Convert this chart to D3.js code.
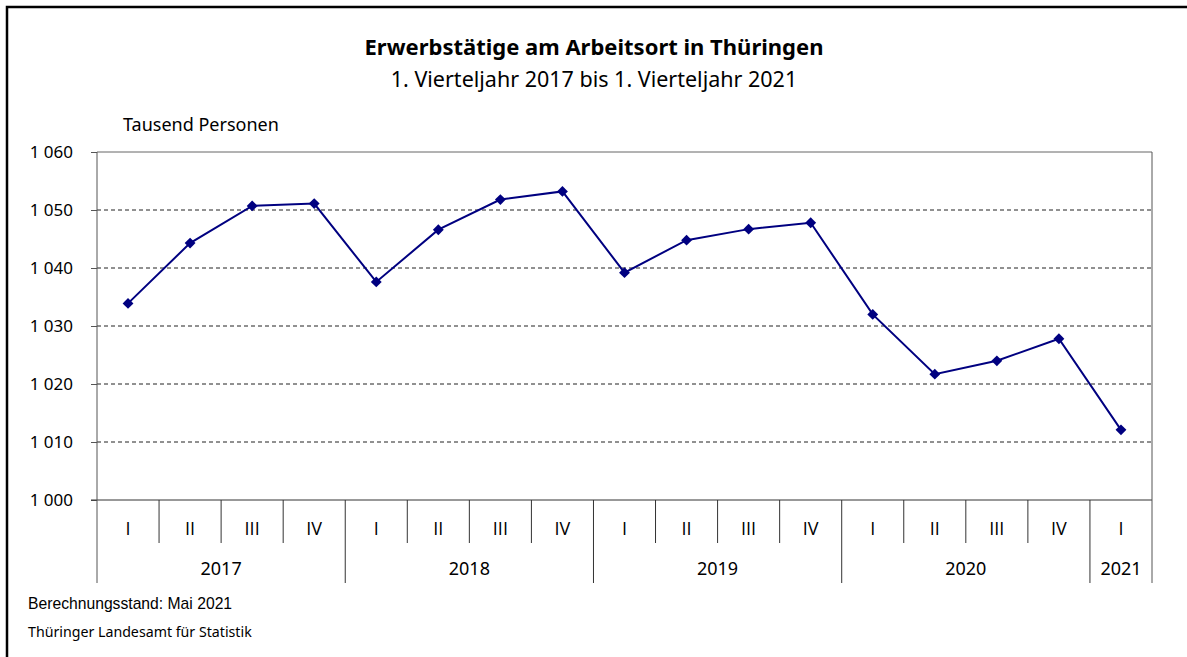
<!DOCTYPE html>
<html>
<head>
<meta charset="utf-8">
<script src="https://cdn.jsdelivr.net/npm/d3@7"></script>
<style>
  body { margin: 0; background: #fff; }
  svg { display: block; }
</style>
</head>
<body>
<div id="chart"></div>
<script>
// Erwerbstätige am Arbeitsort in Thüringen, Tausend Personen
const quarterLabels = ["I", "II", "III", "IV", "I", "II", "III", "IV", "I", "II", "III", "IV", "I", "II", "III", "IV", "I"];
const yearLabels = ["2017", "2018", "2019", "2020", "2021"];
const quartersPerYear = [4, 4, 4, 4, 1];
const values = [1033.9, 1044.3, 1050.7, 1051.1, 1037.6, 1046.6, 1051.8, 1053.2, 1039.2, 1044.8, 1046.7, 1047.8, 1032.0, 1021.7, 1024.0, 1027.8, 1012.1];
const yTicks = [1000, 1010, 1020, 1030, 1040, 1050, 1060];

const width = 1187;
const height = 657;
const margin = { top: 152, right: 35, bottom: 157, left: 97 };
const font = "'Noto Sans', 'Open Sans', sans-serif";
const plainFont = "'Open Sans', 'Noto Sans', sans-serif";

const svg = d3.select("#chart")
  .append("svg")
  .attr("width", width)
  .attr("height", height);

// outer frame (runs off the right and bottom edge like in the original)
svg.append("rect")
  .attr("x", 7)
  .attr("y", 7)
  .attr("width", width + 10)
  .attr("height", height + 10)
  .attr("fill", "none")
  .attr("stroke", "#000")
  .attr("stroke-width", 2.5);

const x = d3.scaleBand()
  .domain(d3.range(values.length))
  .range([margin.left, width - margin.right])
  .padding(0);

const y = d3.scaleLinear()
  .domain([1000, 1060])
  .range([height - margin.bottom, margin.top]);

const fmt = d3.formatLocale({ decimal: ",", thousands: " ", grouping: [3], currency: ["", " €"] }).format(",d");

// titles
svg.append("text")
  .attr("x", 594)
  .attr("y", 55)
  .attr("text-anchor", "middle")
  .attr("font-family", font)
  .attr("font-weight", "bold")
  .attr("font-size", 22)
  .text("Erwerbstätige am Arbeitsort in Thüringen");

svg.append("text")
  .attr("x", 594)
  .attr("y", 87)
  .attr("text-anchor", "middle")
  .attr("font-family", font)
  .attr("font-size", 21.5)
  .text("1. Vierteljahr 2017 bis 1. Vierteljahr 2021");

svg.append("text")
  .attr("x", 123)
  .attr("y", 131)
  .attr("font-family", font)
  .attr("font-size", 18)
  .text("Tausend Personen");

// dashed grid lines
svg.append("g")
  .selectAll("line")
  .data(yTicks.filter(d => d > 1000 && d < 1060))
  .join("line")
  .attr("x1", margin.left)
  .attr("x2", width - margin.right)
  .attr("y1", d => y(d))
  .attr("y2", d => y(d))
  .attr("stroke", "#222")
  .attr("stroke-width", 1)
  .attr("stroke-dasharray", "4,3");

// y axis
const yAxis = svg.append("g")
  .attr("transform", `translate(${margin.left},0)`)
  .call(d3.axisLeft(y).tickValues(yTicks).tickFormat(fmt).tickSize(6).tickPadding(18));
yAxis.select(".domain").remove();
yAxis.selectAll(".tick line").attr("stroke", "#555");
yAxis.selectAll(".tick text")
  .attr("font-family", font)
  .attr("font-size", 17)
  .attr("fill", "#000");

// plot frame
const plotBottom = y(1000);
const axisBottom = 583;
svg.append("line")
  .attr("x1", margin.left).attr("x2", width - margin.right)
  .attr("y1", y(1060)).attr("y2", y(1060))
  .attr("stroke", "#666");
svg.append("line")
  .attr("x1", margin.left - 6).attr("x2", width - margin.right)
  .attr("y1", plotBottom).attr("y2", plotBottom)
  .attr("stroke", "#333");
svg.append("line")
  .attr("x1", margin.left).attr("x2", margin.left)
  .attr("y1", y(1060)).attr("y2", axisBottom)
  .attr("stroke", "#555");
svg.append("line")
  .attr("x1", width - margin.right).attr("x2", width - margin.right)
  .attr("y1", y(1060)).attr("y2", axisBottom)
  .attr("stroke", "#555");

// category separators: quarters short, year boundaries long
let yearStarts = [];
let acc = 0;
quartersPerYear.forEach(n => { yearStarts.push(acc); acc += n; });

svg.append("g")
  .selectAll("line")
  .data(d3.range(1, values.length))
  .join("line")
  .attr("x1", i => x(i))
  .attr("x2", i => x(i))
  .attr("y1", plotBottom)
  .attr("y2", i => yearStarts.includes(i) ? axisBottom : 543)
  .attr("stroke", "#333");

svg.append("g")
  .selectAll("text")
  .data(quarterLabels)
  .join("text")
  .attr("x", (d, i) => x(i) + x.bandwidth() / 2)
  .attr("y", 535)
  .attr("text-anchor", "middle")
  .attr("font-family", plainFont)
  .attr("font-size", 18)
  .text(d => d);

svg.append("g")
  .selectAll("text")
  .data(yearLabels)
  .join("text")
  .attr("x", (d, i) => (x(yearStarts[i]) + x(yearStarts[i] + quartersPerYear[i] - 1) + x.bandwidth()) / 2)
  .attr("y", 575)
  .attr("text-anchor", "middle")
  .attr("font-family", font)
  .attr("font-size", 18)
  .text(d => d);

// the series
const line = d3.line()
  .x((d, i) => x(i) + x.bandwidth() / 2)
  .y(d => y(d));

svg.append("path")
  .datum(values)
  .attr("d", line)
  .attr("fill", "none")
  .attr("stroke", "#000080")
  .attr("stroke-width", 2);

svg.append("g")
  .selectAll("path")
  .data(values)
  .join("path")
  .attr("transform", (d, i) => `translate(${x(i) + x.bandwidth() / 2},${y(d)})`)
  .attr("d", d3.symbol(d3.symbolDiamond2, 75))
  .attr("fill", "#000080");

// footer
svg.append("text")
  .attr("x", 28)
  .attr("y", 609)
  .attr("font-family", "'Liberation Sans', Arial, sans-serif")
  .attr("font-size", 15.7)
  .text("Berechnungsstand: Mai 2021");

svg.append("text")
  .attr("x", 28)
  .attr("y", 637)
  .attr("font-family", font)
  .attr("font-size", 14.2)
  .text("Thüringer Landesamt für Statistik");
</script>
</body>
</html>
